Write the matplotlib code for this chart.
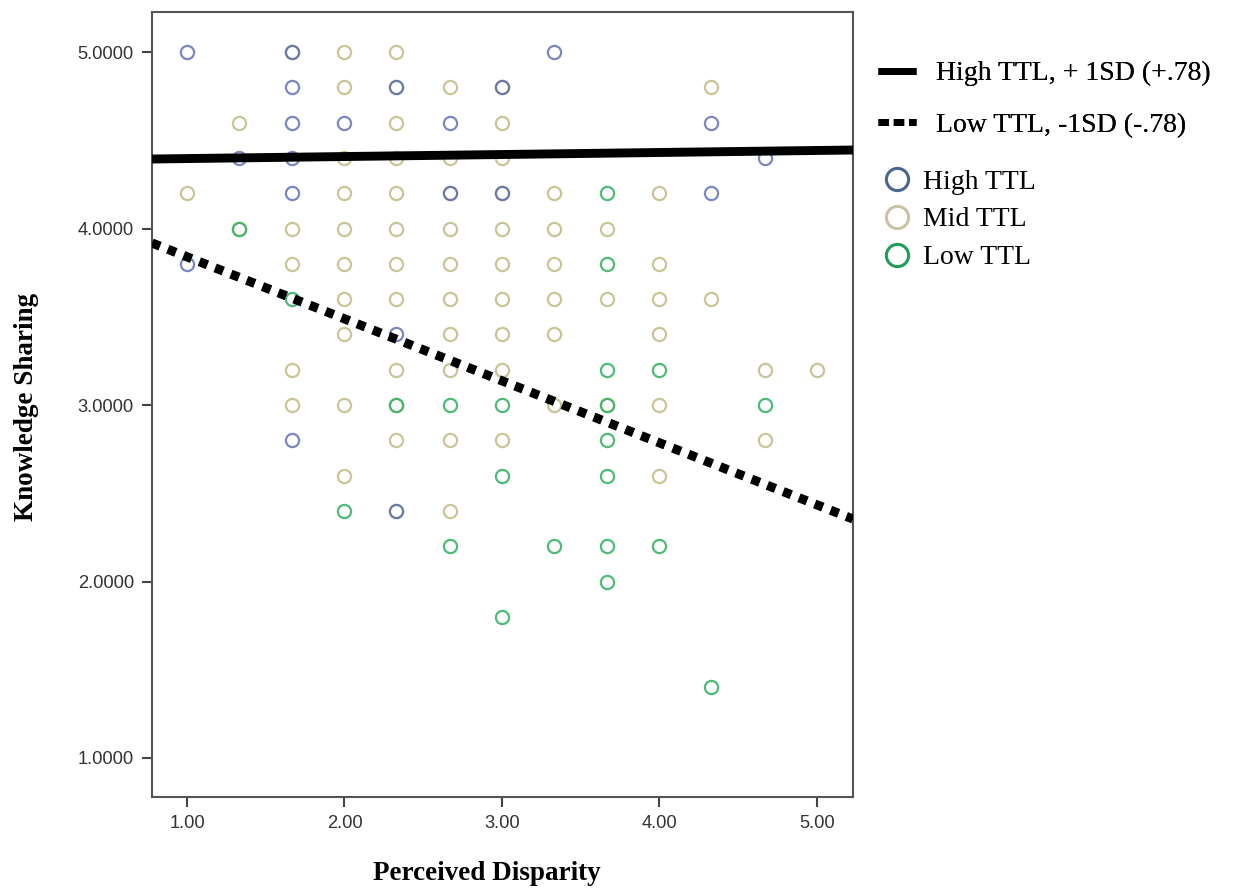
import matplotlib
matplotlib.use("Agg")
import matplotlib.pyplot as plt
from matplotlib.lines import Line2D

# ---- data ----
high_x = [1.0, 3.33, 1.67, 1.67, 2.0, 2.67, 4.33, 1.33, 1.67, 4.67, 1.67, 4.33, 1.0, 2.33, 1.67,
          1.67, 2.33, 3.0, 2.67, 3.0, 2.33]
high_y = [5.0, 5.0, 4.8, 4.6, 4.6, 4.6, 4.6, 4.4, 4.4, 4.4, 4.2, 4.2, 3.8, 3.4, 2.8,
          5.0, 4.8, 4.8, 4.2, 4.2, 2.4]

mid_x = [1.67, 2.0, 2.33,
         2.0, 2.33, 2.67, 3.0, 4.33,
         1.33, 2.33, 3.0,
         2.0, 2.33, 2.67, 3.0,
         1.0, 2.0, 2.33, 2.67, 3.0, 3.33, 4.0,
         1.33, 1.67, 2.0, 2.33, 2.67, 3.0, 3.33, 3.67,
         1.67, 2.0, 2.33, 2.67, 3.0, 3.33, 4.0,
         2.0, 2.33, 2.67, 3.0, 3.33, 3.67, 4.0, 4.33,
         2.0, 2.67, 3.0, 3.33, 4.0,
         1.67, 2.33, 2.67, 3.0, 4.67, 5.0,
         1.67, 2.0, 2.33, 3.33, 3.67, 4.0,
         2.33, 2.67, 3.0, 4.67,
         2.0, 4.0,
         2.33, 2.67]
mid_y = [5.0, 5.0, 5.0,
         4.8, 4.8, 4.8, 4.8, 4.8,
         4.6, 4.6, 4.6,
         4.4, 4.4, 4.4, 4.4,
         4.2, 4.2, 4.2, 4.2, 4.2, 4.2, 4.2,
         4.0, 4.0, 4.0, 4.0, 4.0, 4.0, 4.0, 4.0,
         3.8, 3.8, 3.8, 3.8, 3.8, 3.8, 3.8,
         3.6, 3.6, 3.6, 3.6, 3.6, 3.6, 3.6, 3.6,
         3.4, 3.4, 3.4, 3.4, 3.4,
         3.2, 3.2, 3.2, 3.2, 3.2, 3.2,
         3.0, 3.0, 3.0, 3.0, 3.0, 3.0,
         2.8, 2.8, 2.8, 2.8,
         2.6, 2.6,
         2.4, 2.4]

low_x = [3.67, 1.33, 3.67, 1.67, 3.67, 4.0, 2.33, 2.67, 3.0, 3.67, 4.67,
         3.67, 3.0, 3.67, 2.0, 2.67, 3.33, 3.67, 4.0, 3.67, 3.0, 4.33]
low_y = [4.2, 4.0, 3.8, 3.6, 3.2, 3.2, 3.0, 3.0, 3.0, 3.0, 3.0,
         2.8, 2.6, 2.6, 2.4, 2.2, 2.2, 2.2, 2.2, 2.0, 1.8, 1.4]

# simple-slope lines (endpoints at axis limits)
line_x = [0.778, 5.229]
high_line_y = [4.394, 4.445]
low_line_y = [3.918, 2.354]

x_ticks = [1.0, 2.0, 3.0, 4.0, 5.0]
y_ticks = [1.0, 2.0, 3.0, 4.0, 5.0]

c_high, c_mid, c_low = "#4f5fae", "#c4bf8a", "#2fb060"

fig = plt.figure(figsize=(12.39, 8.88), dpi=100)
ax = fig.add_axes([152/1239, 1-797/888, (853-152)/1239, (797-12)/888])

ms = 9.5
ax.plot(mid_x, mid_y, "o", ms=ms, mfc="none", mec=c_mid, mew=1.6, alpha=0.9, zorder=2)
ax.plot(low_x, low_y, "o", ms=ms, mfc="none", mec=c_low, mew=1.6, alpha=0.85, zorder=3)
ax.plot(high_x, high_y, "o", ms=ms, mfc="none", mec=c_high, mew=1.6, alpha=0.75, zorder=4)

ax.plot(line_x, high_line_y, color="black", lw=6.4, solid_capstyle="butt", zorder=5)
ax.plot(line_x, low_line_y, color="black", lw=6.6, linestyle=(0, (0.95, 0.9)),
        dash_capstyle="butt", zorder=5)

ax.set_xlim(0.778, 5.229)
ax.set_ylim(0.779, 5.227)
ax.set_xticks(x_ticks)
ax.set_xticklabels([f"{v:.2f}" for v in x_ticks], fontsize=13.2, family="Liberation Sans", color="#333333")
ax.set_yticks(y_ticks)
ax.set_yticklabels([f"{v:.4f}" for v in y_ticks], fontsize=13.2, family="Liberation Sans", color="#333333")
ax.tick_params(axis="both", direction="out", length=7, width=1.5, color="#444444", pad=6)
for s in ax.spines.values():
    s.set_color("#555555")
    s.set_linewidth(1.5)

fig.text(487/1239, 1-873/888, "Perceived Disparity", ha="center", va="center",
         fontsize=19.5, fontweight="bold", family="Liberation Serif")
fig.text(27/1239, 1-407/888, "Knowledge Sharing", ha="center", va="center", rotation=90,
         fontsize=19.5, fontweight="bold", family="Liberation Serif")

# legends
h1 = [Line2D([], [], color="black", lw=5, solid_capstyle="butt"),
      Line2D([], [], color="black", lw=5, linestyle=(0, (1.5, 0.7)), dash_capstyle="butt")]
leg1 = fig.legend(h1, ["High TTL, + 1SD (+.78)", "Low TTL, -1SD (-.78)"],
                  loc="upper left", bbox_to_anchor=(878/1239, 1-61/888), frameon=False,
                  prop={"family": "Liberation Serif", "size": 20},
                  handlelength=1.35, handletextpad=0.75, labelspacing=0.93, borderaxespad=0,
                  borderpad=0)
h2 = [Line2D([], [], ls="none", marker="o", ms=16, mfc="none", mec="#4a6590", mew=2.2),
      Line2D([], [], ls="none", marker="o", ms=16, mfc="none", mec="#c9c2a6", mew=2.2),
      Line2D([], [], ls="none", marker="o", ms=16, mfc="none", mec="#1e9e55", mew=2.2)]
leg2 = fig.legend(h2, ["High TTL", "Mid TTL", "Low TTL"],
                  loc="upper left", bbox_to_anchor=(872/1239, 1-158/888), frameon=False,
                  prop={"family": "Liberation Serif", "size": 20},
                  handlelength=1.0, handletextpad=0.45, labelspacing=0.45, borderaxespad=0)
fig.add_artist(leg1)

fig.savefig("out.png", dpi=100, facecolor="white")
